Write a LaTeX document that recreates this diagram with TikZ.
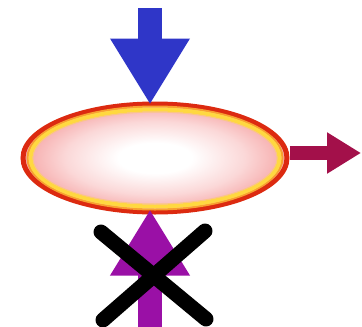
\documentclass[tikz,border=0pt]{standalone}
\usepackage{tikz}
\usetikzlibrary{shapes.geometric,arrows.meta}

\definecolor{inblue}{HTML}{2F36C8}
\definecolor{outred}{HTML}{A3104A}
\definecolor{inpurple}{HTML}{9A10A6}
\definecolor{rimred}{HTML}{DC2A10}
\definecolor{rimorange}{HTML}{F8A030}
\definecolor{rimyellow}{HTML}{FFD840}
\definecolor{cellpink}{HTML}{F6A8A8}

\pgfdeclareradialshading{cellglow}{\pgfpoint{0bp}{0bp}}{%
  color(0bp)=(white); color(7bp)=(white); color(17bp)=(cellpink!45);
  color(25bp)=(cellpink); color(50bp)=(cellpink)}

\tikzset{
  blockarrow/.style={line width=24pt, -{Triangle[length=66pt,width=75pt]}},
  thinarrow/.style={line width=14pt, -{Triangle[length=34pt,width=39pt]}},
  cross/.style={line width=15pt, line cap=round, black},
}

\begin{document}
\begin{tikzpicture}[x=1pt,y=-1pt]
    \useasboundingbox (0,0) rectangle (362,327);

    % Cell
    \node[ellipse, minimum width=264pt, minimum height=108pt, inner sep=0pt,
          draw=rimred, line width=5pt, shading=cellglow] (cell) at (155,158) {};
    \draw[rimorange, line width=2pt] (cell.center) ellipse (127.5 and 51.5);
    \draw[rimyellow, line width=4pt] (cell.center) ellipse (124.5 and 48.5);
    \draw[rimorange!60, line width=1pt] (cell.center) ellipse (122 and 46);

    % Input from above
    \coordinate (intop) at (150,8);
    \draw[blockarrow, inblue] (intop) -- ([yshift=-3pt]intop |- cell.north);

    % Output to the right
    \coordinate (outend) at (361,153);
    \draw[thinarrow, outred] (cell.east |- outend) -- (outend);

    % Blocked input from below
    \coordinate (inbot) at (150,327);
    \draw[blockarrow, inpurple] (inbot) -- ([yshift=5pt]inbot |- cell.south);

    % Cross
    \coordinate (xa) at (101,232);
    \coordinate (xb) at (206,319);
    \coordinate (xc) at (205,231);
    \coordinate (xd) at (103,320);
    \draw[cross] (xa) -- (xb);
    \draw[cross] (xc) -- (xd);
\end{tikzpicture}
\end{document}
